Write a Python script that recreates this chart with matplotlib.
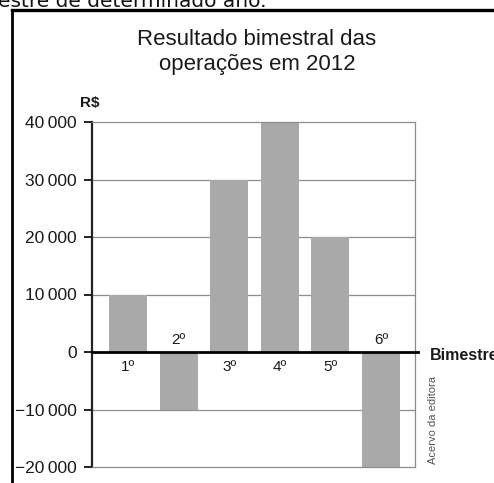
import matplotlib

matplotlib.use("Agg")
import matplotlib.pyplot as plt
from matplotlib.lines import Line2D

# values
bimestres = ["1º", "2º", "3º", "4º", "5º", "6º"]
resultados = [10000, -10000, 30000, 40000, 20000, -20000]
y_ticks = [-20000, -10000, 0, 10000, 20000, 30000, 40000]
y_labels = ["\u221220\u2009000", "\u221210\u2009000", "0", "10\u2009000", "20\u2009000", "30\u2009000", "40\u2009000"]

plt.rcParams["font.family"] = ["Liberation Sans", "DejaVu Sans"]

W, H = 494, 483
fig = plt.figure(figsize=(W / 100, H / 100), dpi=100)
fig.patch.set_facecolor("white")


def px(x, y):
    return x / W, 1 - y / H


# page frame and the cut-off line of text above it
fig.add_artist(Line2D([12 / W, 1], [1 - 10 / H] * 2, color="black", lw=2.4))
fig.add_artist(Line2D([12 / W] * 2, [0, 1 - 10 / H], color="black", lw=2.0))
fig.text(-0.005, 1 - 7 / H, "estre de determinado ano.", fontsize=14.5,
         family="DejaVu Sans", va="baseline", ha="left", color="#111111")

ax = fig.add_axes([92 / W, 1 - 467 / H, (415 - 92) / W, (467 - 122) / H])
xs = list(range(1, len(bimestres) + 1))
ax.bar(xs, resultados, width=0.75, color="#a9a9a9", zorder=2)
ax.set_xlim(0.29, 6.67)
ax.set_ylim(-20000, 40000)

ax.set_yticks(y_ticks)
ax.set_yticklabels(y_labels, fontsize=12.5, color="#1a1a1a")
ax.set_xticks([])
ax.tick_params(axis="y", length=6, width=1.4, color="#222222", pad=5)

for y in y_ticks:
    if y not in (0, -20000, 40000):
        ax.axhline(y, color="#8c8c8c", lw=0.9, zorder=1)
ax.axhline(0, xmax=1.01, color="black", lw=2.0, zorder=3, clip_on=False)

for side in ("top", "bottom", "right"):
    ax.spines[side].set_color("#8c8c8c")
    ax.spines[side].set_linewidth(0.9)
ax.spines["left"].set_color("#222222")
ax.spines["left"].set_linewidth(1.6)

for x, v, lab in zip(xs, resultados, bimestres):
    if v >= 0:
        ax.annotate(lab, (x, 0), xytext=(0, -11), textcoords="offset points",
                    ha="center", va="center", fontsize=11, color="#1a1a1a")
    else:
        ax.annotate(lab, (x, 0), xytext=(0, 9), textcoords="offset points",
                    ha="center", va="center", fontsize=11, color="#1a1a1a")

fig.text(*px(90, 103), "R$", fontsize=11, fontweight="bold", ha="center", va="center", color="#1a1a1a")
fig.text(*px(430, 355), "Bimestre", fontsize=11.5, fontweight="bold", ha="left", va="center", color="#1a1a1a")
fig.text(*px(433, 420), "Acervo da editora", fontsize=8, rotation=90, ha="center", va="center", color="#555555")
fig.text(*px(257, 52), "Resultado bimestral das\noperações em 2012", fontsize=16,
         ha="center", va="center", linespacing=1.25, color="#1a1a1a")

fig.savefig("out.png", dpi=100)
